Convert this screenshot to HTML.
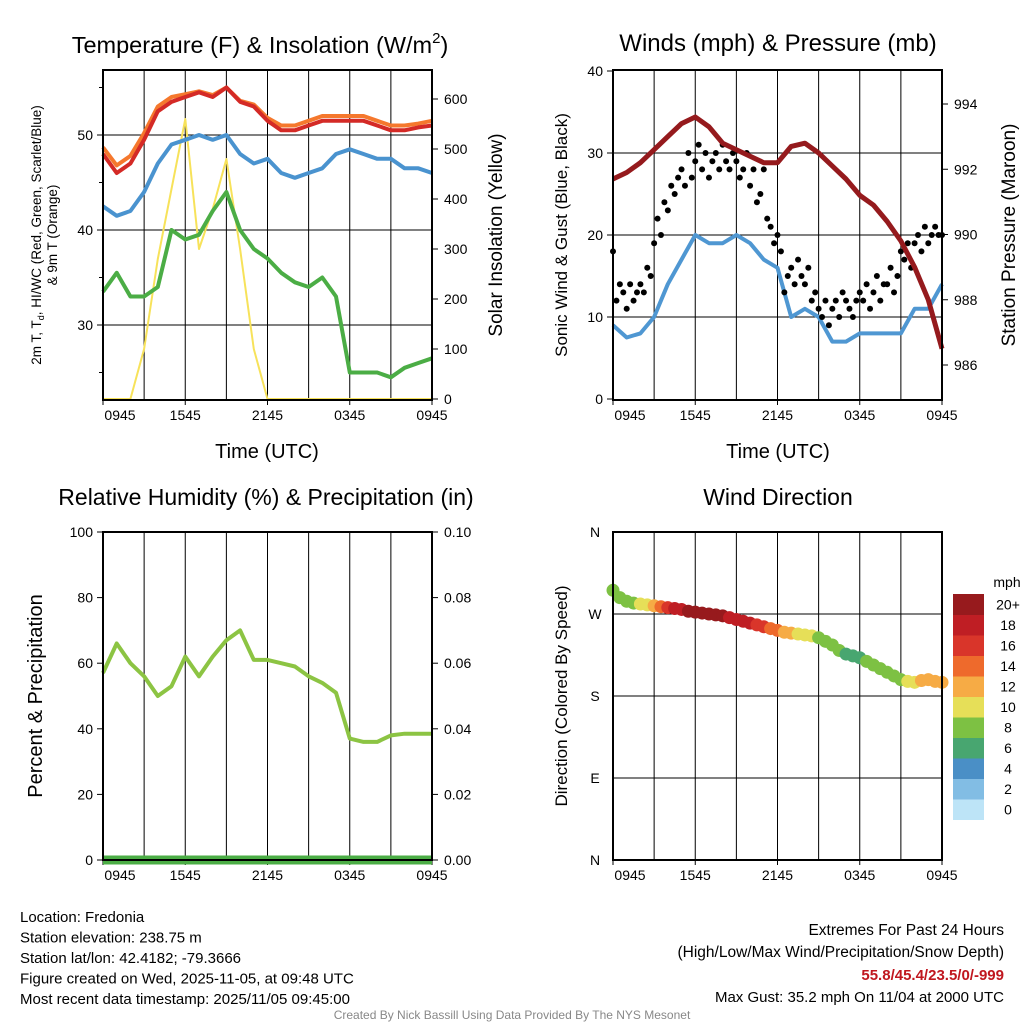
<!DOCTYPE html>
<html><head><meta charset="utf-8">
<style>
html,body{margin:0;padding:0;background:#fff;}
svg{display:block;font-family:"Liberation Sans",Arial,sans-serif;}
</style></head>
<body>
<svg id="chart" width="1024" height="1024" viewBox="0 0 1024 1024">
<rect x="0" y="0" width="1024" height="1024" fill="#fff"/>
</svg>
<script>
// ---- data (hourly from 0945 UTC to 0945 UTC) ----
const xTickLabels = ["0945","1545","2145","0345","0945"];
const tempTicks = [30,40,50];
const insolTicks = [0,100,200,300,400,500,600];
const windTicks = [0,10,20,30,40];
const presTicks = [986,988,990,992,994];
const rhTicks = [0,20,40,60,80,100];
const precipTicks = ["0.00","0.02","0.04","0.06","0.08","0.10"];
const dirLabels = ["N","E","S","W","N"];
const cbLabels = ["0","2","4","6","8","10","12","14","16","18","20+"];
const cbColors = ["#bde4f7","#82bde4","#4a8fc6","#48a670","#7dc143","#e6df58","#f6ab45","#ee6a2c","#d9352a","#bf1e24","#971a1d"];

const temp2m = [48,46,47,49.5,52.5,53.5,54,54.5,54,55,53.5,53,51.5,50.5,50.5,51,51.5,51.5,51.5,51.5,51,50.5,50.5,50.8,51];
const temp9m = [48.7,46.8,47.8,50.2,53,54,54.3,54.6,54.2,55,53.6,53.2,51.8,51,51,51.5,52,52,52,52,51.5,51,51,51.2,51.5];
const heatIdx = [42.5,41.5,42,44,47,49,49.5,50,49.5,50,48,47,47.5,46,45.5,46,46.5,48,48.5,48,47.5,47.5,46.5,46.5,46];
const dewPt = [33.5,35.5,33,33,34,40,39,39.5,42,44,40,38,37,35.5,34.5,34,35,33,25,25,25,24.5,25.5,26,26.5];
const insol = [0,0,0,100,280,420,560,300,380,480,300,100,0,0,0,0,0,0,0,0,0,0,0,0,0];

const sonicWind = [9,7.5,8,10,14,17,20,19,19,20,19,17,16,10,11,10,7,7,8,8,8,8,11,11,14];
const gusts = [18,12,14,13, 11,14,12,13, 14,13,16,15, 19,22,20,24, 23,26,25,27, 28,26,30,27, 29,31,28,30, 27,29,30,28, 31,29,28,30, 29,27,28,30, 26,28,24,25, 28,22,21,19, 20,18,13,15, 16,14,17,15, 14,16,12,13, 11,10,12,9, 11,12,10,13, 12,11,10,12, 13,12,14,11, 13,15,12,14, 14,16,13,15, 18,17,19,16, 19,20,18,21, 19,20,21,20, 20];
const pressure = [991.7,991.9,992.2,992.6,993.0,993.4,993.6,993.3,992.8,992.6,992.4,992.2,992.2,992.7,992.8,992.5,992.1,991.7,991.2,990.9,990.4,989.8,989.0,988.0,986.5];

const relHum = [57,66,60,56,50,53,62,56,62,67,70,61,61,60,59,56,54,51,37,36,36,38,38.5,38.5,38.5];
const precip = [0,0,0,0,0,0,0,0,0,0,0,0,0,0,0,0,0,0,0,0,0,0,0,0,0];

const windDir = [296,288,284,282,281,280,279,278,277,276,275,273,272,271,270,269,268,266,264,262,260,258,256,254,252,250,249,248,247,246,244,240,236,230,226,224,222,218,214,210,206,202,198,196,195,197,198,196,195];
const dirSpeed = [8,8,8,9,10,11,13,15,17,18,19,20,21,21,20,20,20,19,19,18,18,17,16,15,14,13,12,11,10,10,9,8,8,8,7,7,7,8,8,8,8,8,9,10,11,12,13,12,12];

// ---- helpers ----
const svg = document.getElementById('chart');
const NS = "http://www.w3.org/2000/svg";
function mk(tag, attrs, parent){
  const e = document.createElementNS(NS, tag);
  for (const k in attrs) e.setAttribute(k, attrs[k]);
  (parent||svg).appendChild(e);
  return e;
}
function txt(s, x, y, size, anchor, parent, extra){
  const t = mk('text', Object.assign({x:x,y:y,'font-size':size,'text-anchor':anchor||'middle',fill:'#000'}, extra||{}), parent);
  t.textContent = s;
  return t;
}
function lin(d0,d1,r0,r1){ return v => r0 + (v-d0)*(r1-r0)/(d1-d0); }

const panels = {
  tl:{x0:103,x1:432,y0:70,y1:400},
  tr:{x0:613,x1:942,y0:70,y1:400},
  bl:{x0:103,x1:432,y0:532,y1:860},
  br:{x0:613,x1:942,y0:532,y1:860}
};
function frame(p, name){
  const g = mk('g',{});
  
  
  for (let i=1;i<8;i++){
    const x = p.x0 + i*(p.x1-p.x0)/8;
    const l = mk('line',{x1:x,x2:x,y1:p.y0,y2:p.y1,stroke:'#000','stroke-width':1},g);
    
    
  }
  xTickLabels.forEach((s,i)=>{
    let x = p.x0 + i*(p.x1-p.x0)/4;
    if (i===0) x += 17;
    const t = txt(s, x, p.y1+20, 14, 'middle', g);
    
    
    mk('line',{x1:p.x0 + i*(p.x1-p.x0)/4,x2:p.x0 + i*(p.x1-p.x0)/4,y1:p.y1,y2:p.y1+5,stroke:'#000'},g);
  });
  return g;
}
function border(p){
  const r = mk('rect',{x:p.x0,y:p.y0,width:p.x1-p.x0,height:p.y1-p.y0,fill:'none',stroke:'#000','stroke-width':2});
  
  
}
function hline(g,p,y){ mk('line',{x1:p.x0,x2:p.x1,y1:y,y2:y,stroke:'#000','stroke-width':1},g); }
function pathFrom(arr, xs, ys){
  return arr.map((v,i)=>(i?'L':'M')+xs(i).toFixed(1)+','+ys(v).toFixed(1)).join(' ');
}

// ===== Panel 1: Temperature & Insolation =====
(function(){
  const p = panels.tl;
  const g = frame(p,'temperature-panel');
  const yT = lin(50,40,135,230);
  const yI = lin(0,600,399,99);
  const xs = i => p.x0 + i*(p.x1-p.x0)/(temp2m.length-1);
  tempTicks.forEach(v=>{
    hline(g,p,yT(v));
    const t = txt(String(v), p.x0-10, yT(v)+5, 14, 'end', g);
    
    
    mk('line',{x1:p.x0-6,x2:p.x0,y1:yT(v),y2:yT(v),stroke:'#000'},g);
    mk('line',{x1:p.x0-4,x2:p.x0,y1:yT(v+5),y2:yT(v+5),stroke:'#000'},g);
  });
  mk('line',{x1:p.x0-4,x2:p.x0,y1:yT(25),y2:yT(25),stroke:'#000'},g);
  insolTicks.forEach(v=>{
    const t = txt(String(v), p.x1+12, yI(v)+5, 14, 'start', g);
    
    
    mk('line',{x1:p.x1,x2:p.x1+6,y1:yI(v),y2:yI(v),stroke:'#000'},g);
  });
  const series = [[insol,'#f7e25a',yI,2,'insolation-line'],[dewPt,'#4bad45',yT,4,'dewpoint-line'],[heatIdx,'#4a93cf',yT,4,'heat-index-line'],[temp9m,'#f5782d',yT,4,'temp-9m-line'],[temp2m,'#d42a26',yT,4,'temp-2m-line']];
  series.forEach(s=>{
    const pa = mk('path',{d:pathFrom(s[0],xs,s[2]),fill:'none',stroke:s[1],'stroke-width':s[3],'stroke-linejoin':'round'},g);
    
    
  });
  border(p);
  const t1 = txt('Temperature (F) & Insolation (W/m',260,53,23.5,'middle');
  const sup = mk('tspan',{'font-size':15,dy:-10},t1); sup.textContent='2';
  const cl = mk('tspan',{dy:10},t1); cl.textContent=')';
  
  
  const yl = mk('text',{transform:'translate(41,235) rotate(-90)','font-size':13.5,'text-anchor':'middle'});
  yl.innerHTML = '2m T, T<tspan font-size="9" dy="3">d</tspan><tspan dy="-3">, HI/WC (Red, Green, Scarlet/Blue)</tspan>';
  
  
  const yl2 = txt('& 9m T (Orange)',0,0,13.5,'middle',null,{transform:'translate(57,235) rotate(-90)'});
  
  
  const yr = txt('Solar Insolation (Yellow)',0,0,19,'middle',null,{transform:'translate(502,235) rotate(-90)'});
  
  
  const xt = txt('Time (UTC)',267,458,20,'middle');
  
  
})();

// ===== Panel 2: Winds & Pressure =====
(function(){
  const p = panels.tr;
  const g = frame(p,'winds-panel');
  const yW = lin(0,40,399,71);
  const yP = lin(986,994,365,104);
  const xs = i => p.x0 + i*(p.x1-p.x0)/(sonicWind.length-1);
  const xg = i => p.x0 + i*(p.x1-p.x0)/(gusts.length-1);
  windTicks.forEach(v=>{
    if (v>0 && v<40) hline(g,p,yW(v));
    const t = txt(String(v), p.x0-10, yW(v)+5, 14, 'end', g);
    
    
    mk('line',{x1:p.x0-6,x2:p.x0,y1:yW(v),y2:yW(v),stroke:'#000'},g);
  });
  presTicks.forEach(v=>{
    const t = txt(String(v), p.x1+12, yP(v)+5, 14, 'start', g);
    
    
    mk('line',{x1:p.x1,x2:p.x1+6,y1:yP(v),y2:yP(v),stroke:'#000'},g);
  });
  const bw = mk('path',{d:pathFrom(sonicWind,xs,yW),fill:'none',stroke:'#4f97d2','stroke-width':4,'stroke-linejoin':'round'},g);
  
  
  gusts.forEach((v,i)=>{
    const c = mk('circle',{cx:xg(i),cy:yW(v),r:3,fill:'#000'},g);
    
    
  });
  const pr = mk('path',{d:pathFrom(pressure,xs,yP),fill:'none',stroke:'#951a1d','stroke-width':5,'stroke-linejoin':'round'},g);
  
  
  border(p);
  const t = txt('Winds (mph) & Pressure (mb)',778,51,24,'middle');
  
  
  const yl = txt('Sonic Wind & Gust (Blue, Black)',0,0,17,'middle',null,{transform:'translate(567,235) rotate(-90)'});
  
  
  const yr = txt('Station Pressure (Maroon)',0,0,19,'middle',null,{transform:'translate(1015,235) rotate(-90)'});
  
  
  const xt = txt('Time (UTC)',778,458,20,'middle');
  
  
})();

// ===== Panel 3: RH & Precip =====
(function(){
  const p = panels.bl;
  const g = frame(p,'humidity-panel');
  const yR = lin(0,100,860,532);
  const xs = i => p.x0 + i*(p.x1-p.x0)/(relHum.length-1);
  rhTicks.forEach((v,k)=>{
    mk('line',{x1:p.x0-6,x2:p.x0,y1:yR(v),y2:yR(v),stroke:'#000'},g);
    const t = txt(String(v), p.x0-10, yR(v)+5, 14, 'end', g);
    
    
    const t2 = txt(precipTicks[k], p.x1+12, yR(v)+5, 14, 'start', g);
    
    
    mk('line',{x1:p.x1,x2:p.x1+6,y1:yR(v),y2:yR(v),stroke:'#000'},g);
  });
  const yPr = lin(0,0.1,860,532);
  const pp = mk('path',{d:pathFrom(precip,xs,yPr),fill:'none',stroke:'#4bad45','stroke-width':9},g);
  
  
  const rh = mk('path',{d:pathFrom(relHum,xs,yR),fill:'none',stroke:'#8cc443','stroke-width':4,'stroke-linejoin':'round'},g);
  
  
  border(p);
  const t = txt('Relative Humidity (%) & Precipitation (in)',266,505,23,'middle');
  
  
  const yl = txt('Percent & Precipitation',0,0,20,'middle',null,{transform:'translate(42,696) rotate(-90)'});
  
  
})();

// ===== Panel 4: Wind Direction =====
(function(){
  const p = panels.br;
  const g = frame(p,'wind-direction-panel');
  const yD = lin(0,360,860,532);
  const xs = i => p.x0 + i*(p.x1-p.x0)/(windDir.length-1);
  dirLabels.forEach((s,k)=>{
    const v = k*90;
    if (k>0 && k<4) hline(g,p,yD(v));
    const t = txt(s, p.x0-18, yD(v)+5, 14, 'middle', g);
    
    
  });
  function colorFor(s){ const k = Math.min(10, Math.max(0, Math.floor(s/2))); return cbColors[k]; }
  windDir.forEach((v,i)=>{
    const c = mk('circle',{cx:xs(i),cy:yD(v),r:6.5,fill:colorFor(dirSpeed[i])},g);
    
    
  });
  border(p);
  const cb = mk('g',{});
  
  
  const h = 20.5;
  cbColors.forEach((c,k)=>{
    const y = 594 + (10-k)*h;
    mk('rect',{x:953,y:y,width:31,height:h+0.5,fill:c},cb);
    const t = txt(cbLabels[k], 1008, y+h/2+5, 14, 'middle', cb);
    
    
  });
  const mph = txt('mph',1007,587,14,'middle',cb);
  
  
  const t = txt('Wind Direction',778,505,23,'middle');
  
  
  const yl = txt('Direction (Colored By Speed)',0,0,17,'middle',null,{transform:'translate(567,696) rotate(-90)'});
  
  
})();

// ===== Footer =====
const leftInfo = ["Location: Fredonia","Station elevation: 238.75 m","Station lat/lon: 42.4182; -79.3666","Figure created on Wed, 2025-11-05, at 09:48 UTC","Most recent data timestamp: 2025/11/05 09:45:00"];
leftInfo.forEach((s,i)=>{
  const t = txt(s, 20, 922+i*20.5, 15, 'start');
  
  
});
const r1 = txt('Extremes For Past 24 Hours',1004,935,15.5,'end');


const r2 = txt('(High/Low/Max Wind/Precipitation/Snow Depth)',1004,957,15.5,'end');


const r3 = txt('55.8/45.4/23.5/0/-999',1004,980,15,'end',null,{fill:'#c0171f','font-weight':'bold'});


const r4 = txt('Max Gust: 35.2 mph On 11/04 at 2000 UTC',1004,1002,15,'end');


const cr = txt('Created By Nick Bassill Using Data Provided By The NYS Mesonet',512,1019,12,'middle',null,{fill:'#888'});


</script>
</body></html>
